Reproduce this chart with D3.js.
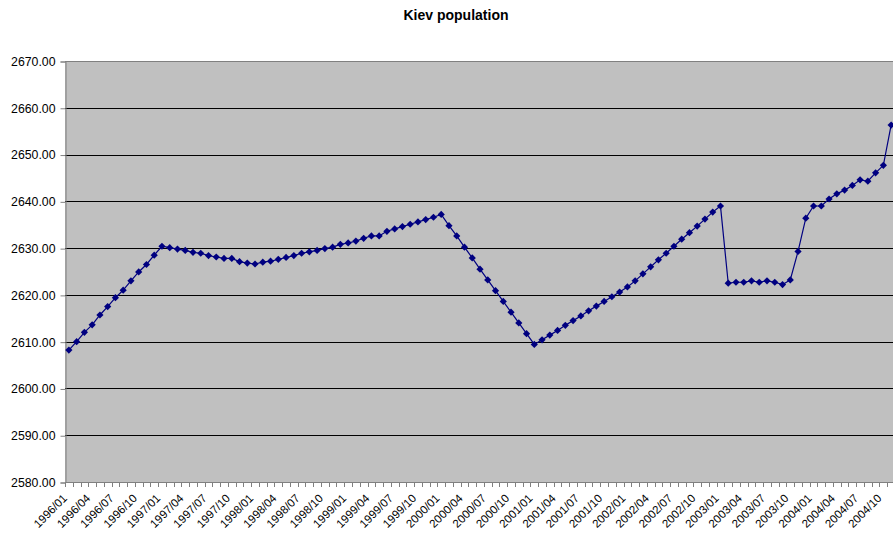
<!DOCTYPE html>
<html>
<head>
<meta charset="utf-8">
<script src="https://cdn.jsdelivr.net/npm/d3@7"></script>
<style>
  body { margin: 0; background: #fff; }
  svg { display: block; font-family: "Liberation Sans", Arial, sans-serif; }
</style>
</head>
<body>
<div id="chart"></div>
<script>
// Kiev population, monthly 1996/01 - 2004/11 (thousands)

const years = [1996, 1997, 1998, 1999, 2000, 2001, 2002, 2003, 2004];
const monthCodes = ["01", "02", "03", "04", "05", "06", "07", "08", "09", "10", "11", "12"];

const pop1996 = [2608.2, 2610.0, 2612.0, 2613.6, 2615.7, 2617.5, 2619.4, 2621.0, 2623.0, 2624.9, 2626.5, 2628.5];
const pop1997 = [2630.4, 2630.1, 2629.8, 2629.5, 2629.1, 2628.9, 2628.4, 2628.1, 2627.8, 2627.8, 2627.1, 2626.8];
const pop1998 = [2626.6, 2627.0, 2627.2, 2627.6, 2628.0, 2628.4, 2628.9, 2629.2, 2629.5, 2629.9, 2630.2, 2630.8];
const pop1999 = [2631.1, 2631.5, 2632.1, 2632.6, 2632.6, 2633.6, 2634.1, 2634.6, 2635.1, 2635.6, 2636.1, 2636.6];
const pop2000 = [2637.2, 2634.8, 2632.6, 2630.2, 2627.9, 2625.5, 2623.2, 2620.9, 2618.6, 2616.3, 2614.0, 2611.7];
const pop2001 = [2609.4, 2610.4, 2611.4, 2612.4, 2613.5, 2614.5, 2615.5, 2616.6, 2617.6, 2618.6, 2619.6, 2620.6];
const pop2002 = [2621.7, 2623.0, 2624.5, 2626.0, 2627.5, 2628.9, 2630.4, 2631.9, 2633.3, 2634.7, 2636.2, 2637.7];
const pop2003 = [2639.0, 2622.5, 2622.7, 2622.7, 2623.0, 2622.7, 2623.0, 2622.7, 2622.2, 2623.2, 2629.3, 2636.4];
const pop2004 = [2639.0, 2639.0, 2640.5, 2641.6, 2642.4, 2643.4, 2644.6, 2644.3, 2646.1, 2647.7, 2656.3];

const yTicks = [2580, 2590, 2600, 2610, 2620, 2630, 2640, 2650, 2660, 2670];

// Build month/value rows
const series = [pop1996, pop1997, pop1998, pop1999, pop2000, pop2001, pop2002, pop2003, pop2004];
const df = [];
series.forEach((vals, yi) => {
  vals.forEach((v, mi) => {
    df.push({ month: `${years[yi]}/${monthCodes[mi]}`, mi: mi, value: v });
  });
});

const w = 893, h = 542;
const pT = 61, pB = 60, pL = 65, plotR = 895; // plot runs past the right edge

const svg = d3.select("#chart").
append("svg").
attr("width", w).
attr("height", h);

const xScale = d3.scaleBand().
domain(df.map(d => d.month)).
range([pL, plotR]);

const yScale = d3.scaleLinear().
domain([2580, 2670]).
range([h - pB, pT]);

// Plot area
svg.append("rect").
attr("x", pL).
attr("y", pT).
attr("width", plotR - pL).
attr("height", h - pB - pT).
attr("fill", "#c0c0c0");

// Gridlines
svg.append("g").
selectAll("line").
data(yTicks.slice(1)).
join("line").
attr("x1", pL).
attr("x2", plotR).
attr("y1", d => Math.round(yScale(d)) + 0.5).
attr("y2", d => Math.round(yScale(d)) + 0.5).
attr("stroke", d => d == 2670 ? "#808080" : "#000").
attr("stroke-width", 1);

// Y axis
const yAxis = d3.axisLeft(yScale).
tickValues(yTicks).
tickFormat(d3.format(".2f")).
tickSize(5).
tickPadding(5);

const gy = svg.append("g").
attr("transform", `translate(${pL + 0.5} 0.5)`).
call(yAxis);
gy.select(".domain").attr("stroke", "#808080");
gy.selectAll(".tick line").attr("stroke", "#808080");
gy.selectAll("text").
attr("font-size", 12.3).
attr("fill", "#000").
attr("font-family", "Liberation Sans, Arial, sans-serif");

// X axis: ticks on band edges, labels every third month
const bw = xScale.bandwidth();
const gx = svg.append("g");

gx.append("line").
attr("x1", pL).
attr("x2", plotR).
attr("y1", Math.round(yScale(2580)) + 0.5).
attr("y2", Math.round(yScale(2580)) + 0.5).
attr("stroke", "#808080");

gx.selectAll(".xtick").
data(df).
join("line").
attr("class", "xtick").
attr("x1", d => Math.round(xScale(d.month)) + 0.5).
attr("x2", d => Math.round(xScale(d.month)) + 0.5).
attr("y1", yScale(2580)).
attr("y2", yScale(2580) + 5).
attr("stroke", "#808080");

gx.selectAll(".xlabel").
data(df.filter(d => d.mi % 3 == 0)).
join("text").
attr("class", "xlabel").
attr("text-anchor", "end").
attr("font-size", 11.5).
attr("transform", d => `translate(${xScale(d.month) + bw / 2 - 1} ${yScale(2580) + 17}) rotate(-45)`).
text(d => d.month);

// Line and markers
const line = d3.line().
x(d => xScale(d.month) + bw / 2).
y(d => yScale(d.value));

svg.append("path").
datum(df).
attr("d", line).
attr("fill", "none").
attr("stroke", "#000080").
attr("stroke-width", 1.2);

svg.selectAll(".marker").
data(df).
join("path").
attr("class", "marker").
attr("d", d3.symbol(d3.symbolSquare, 26)).
attr("transform", d => `translate(${xScale(d.month) + bw / 2} ${yScale(d.value)}) rotate(45)`).
attr("fill", "#000080");

// Title
svg.append("text").
attr("x", 456).
attr("y", 20).
attr("text-anchor", "middle").
attr("font-size", 14).
attr("font-weight", "bold").
text("Kiev population");
</script>
</body>
</html>
